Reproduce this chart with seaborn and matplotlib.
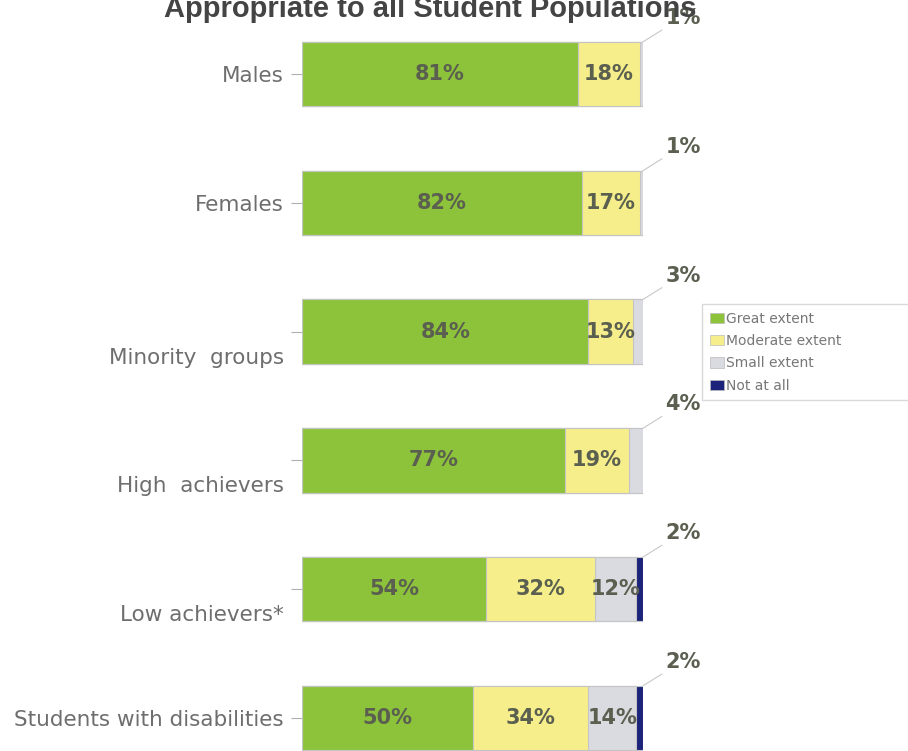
import matplotlib
matplotlib.use("Agg")
import matplotlib.pyplot as plt
import matplotlib.transforms as mtransforms
import numpy as np
import pandas as pd
import seaborn as sns

groups = ["Males", "Females", "Minority  groups", "High  achievers",
          "Low achievers*", "Students with disabilities"]
great = [81, 82, 84, 77, 54, 50]
moderate = [18, 17, 13, 19, 32, 34]
small = [1, 1, 3, 4, 12, 14]
not_at_all = [0, 0, 0, 0, 2, 2]
series_names = ["Great extent", "Moderate extent", "Small extent", "Not at all"]
colors = ["#8dc33b", "#f6ee8a", "#d9dbe0", "#1b237a"]

# labels that sit below their tick in the original
label_drop = [0, 0, 24, 24, 24, 0]

sns.set_style("white")
plt.rcParams["font.family"] = ["DejaVu Sans"]

fig = plt.figure(figsize=(9.08, 7.51), dpi=100)
ax = fig.add_axes([302 / 908, 0, 341 / 908, 1])

vals = np.array([great, moderate, small, not_at_all], dtype=float)
cum = vals.cumsum(axis=0)

# stacked bars: draw cumulative totals from the back to the front
for i in range(3, -1, -1):
    df = pd.DataFrame({"group": groups, "value": cum[i]})
    sns.barplot(data=df, x="value", y="group", orient="h", color=colors[i],
                saturation=1, width=0.5, edgecolor="#c4c4c4", linewidth=0.8,
                ax=ax, label=series_names[i])

# value labels
lab_kw = dict(fontsize=15, fontweight="bold", color="#5a5f50")
for r in range(len(groups)):
    for i in range(4):
        v = vals[i, r]
        if v == 0:
            continue
        left = cum[i, r] - v
        if v < 5:
            ax.annotate(f"{int(v)}%", xy=(cum[i, r], r - 0.25),
                        xytext=(16, 10), textcoords="offset points",
                        ha="left", va="bottom", **lab_kw,
                        arrowprops=dict(arrowstyle="-", color="#c8c8c8", lw=0.8,
                                        shrinkA=0, shrinkB=0, relpos=(0, 0)))
        else:
            ax.text(left + v / 2, r, f"{int(v)}%", ha="center", va="center", **lab_kw)

ax.set_xlim(0, 100)
ax.set_ylim(5.256, -0.575)
ax.set_xlabel("")
ax.set_ylabel("")
ax.set_xticks([])
sns.despine(ax=ax, left=True, bottom=True)
ax.tick_params(axis="y", left=True, length=8, width=0.8, color="#b0b0b0",
               labelsize=15.5, labelcolor="#6e6e6e", pad=5)
for lbl, d in zip(ax.get_yticklabels(), label_drop):
    lbl.set_transform(lbl.get_transform() +
                      mtransforms.ScaledTranslation(0, -d / 100, fig.dpi_scale_trans))

if ax.get_legend() is not None:
    ax.get_legend().remove()
handles = [plt.Rectangle((0, 0), 1, 1, facecolor=c, edgecolor="#bbbbbb", lw=0.5)
           for c in colors]
fig.legend(handles, series_names, loc="upper left", mode="expand",
           bbox_to_anchor=(702 / 908, 0, 215 / 908, 1 - 304 / 751), fontsize=10,
           frameon=True, fancybox=False, edgecolor="#d0d0d0",
           handlelength=1.0, handleheight=0.8, handletextpad=0.2,
           labelspacing=0.6, borderpad=0.55, borderaxespad=0,
           labelcolor="#777777")

fig.text(430 / 908, 1 - 17 / 751, "Appropriate to all Student Populations",
         ha="center", va="baseline", fontsize=21, fontweight="bold",
         color="#444444", family=["Liberation Sans", "DejaVu Sans"])

fig.savefig("out.png", dpi=100)
